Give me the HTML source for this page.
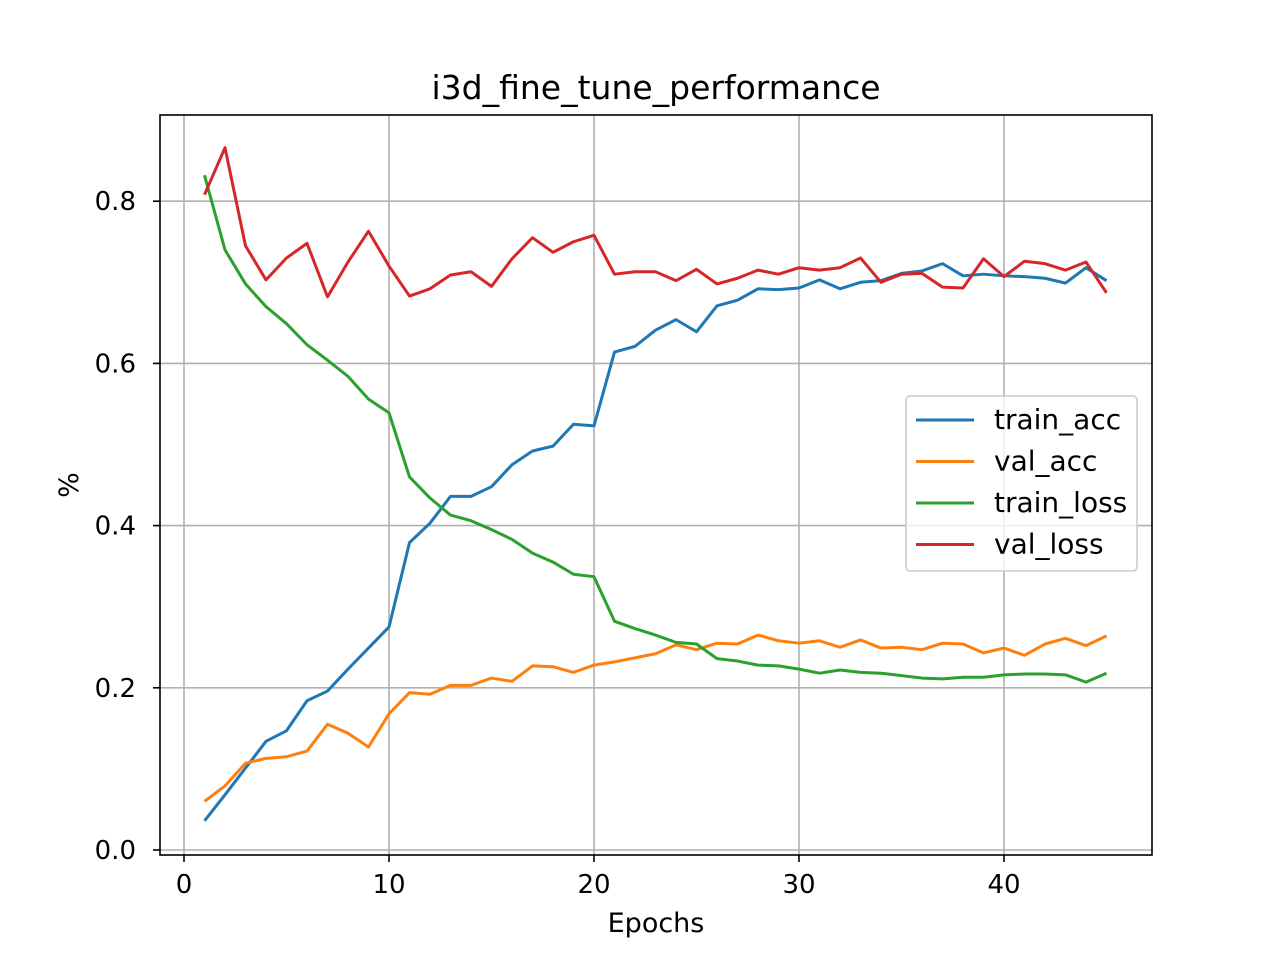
<!DOCTYPE html>
<html><head><meta charset="utf-8"><style>body{margin:0;background:#fff}svg{display:block}text{font-family:"DejaVu Sans","Liberation Sans",sans-serif;fill:#000}</style></head>
<body>
<svg id="chart" width="1280" height="960"></svg>
<script>
const epochs = Array.from({length:45},(_,i)=>i+1);
const trainAcc=[0.036,0.068,0.101,0.134,0.147,0.184,0.196,0.223,0.249,0.275,0.379,0.403,0.436,0.436,0.448,0.475,0.492,0.498,0.525,0.523,0.614,0.621,0.641,0.654,0.639,0.671,0.678,0.692,0.691,0.693,0.703,0.692,0.700,0.702,0.711,0.714,0.723,0.708,0.710,0.708,0.707,0.705,0.699,0.718,0.702];
const valAcc=[0.060,0.079,0.107,0.113,0.115,0.122,0.155,0.144,0.127,0.168,0.194,0.192,0.203,0.203,0.212,0.208,0.227,0.226,0.219,0.228,0.232,0.237,0.242,0.253,0.247,0.255,0.254,0.265,0.258,0.255,0.258,0.250,0.259,0.249,0.250,0.247,0.255,0.254,0.243,0.249,0.240,0.254,0.261,0.252,0.264];
const trainLoss=[0.832,0.740,0.698,0.670,0.649,0.623,0.604,0.584,0.556,0.539,0.460,0.434,0.413,0.406,0.395,0.383,0.366,0.355,0.340,0.337,0.282,0.273,0.265,0.256,0.254,0.236,0.233,0.228,0.227,0.223,0.218,0.222,0.219,0.218,0.215,0.212,0.211,0.213,0.213,0.216,0.217,0.217,0.216,0.207,0.218];
const valLoss=[0.808,0.866,0.745,0.703,0.730,0.748,0.682,0.725,0.763,0.720,0.683,0.692,0.709,0.713,0.695,0.729,0.755,0.737,0.750,0.758,0.710,0.713,0.713,0.702,0.716,0.698,0.705,0.715,0.710,0.718,0.715,0.718,0.730,0.700,0.710,0.711,0.694,0.693,0.729,0.707,0.726,0.723,0.715,0.725,0.687];
const xTicks=[0,10,20,30,40];
const yTicks=[0.0,0.2,0.4,0.6,0.8];
const seriesNames=["train_acc","val_acc","train_loss","val_loss"];
const seriesColors=["#1f77b4","#ff7f0e","#2ca02c","#d62728"];
const seriesData=[trainAcc,valAcc,trainLoss,valLoss];

const NS="http://www.w3.org/2000/svg";
const svg=document.getElementById('chart');
const L=160,R=1152,T=115,B=855;
const xs=v=>184+v*20.5;
const ys=v=>850-v*811;
function mk(tag,attrs,parent){const e=document.createElementNS(NS,tag);for(const k in attrs)e.setAttribute(k,attrs[k]);(parent||svg).appendChild(e);return e;}
xTicks.forEach(t=>{
  const g=mk('line',{x1:xs(t),x2:xs(t),y1:T,y2:B,stroke:'#b0b0b0','stroke-width':1.6});
  
  
  const tk=mk('line',{x1:xs(t),x2:xs(t),y1:B,y2:B+7,stroke:'#000','stroke-width':1.6});
  
  
  const tx=mk('text',{x:xs(t),y:B+38,'text-anchor':'middle','font-size':26});
  tx.textContent=t;
  
  
});
yTicks.forEach(t=>{
  const g=mk('line',{x1:L,x2:R,y1:ys(t),y2:ys(t),stroke:'#b0b0b0','stroke-width':1.6});
  
  
  const tk=mk('line',{x1:L-7,x2:L,y1:ys(t),y2:ys(t),stroke:'#000','stroke-width':1.6});
  
  
  const tx=mk('text',{x:L-24,y:ys(t)+9,'text-anchor':'end','font-size':26});
  tx.textContent=t.toFixed(1);
  
  
});
seriesData.forEach((d,i)=>{
  const p=mk('polyline',{points:d.map((v,j)=>xs(epochs[j])+','+ys(v)).join(' '),fill:'none',stroke:seriesColors[i],'stroke-width':3,'stroke-linejoin':'round'});
  
  
});
const frame=mk('rect',{x:L,y:T,width:R-L,height:B-T,fill:'none',stroke:'#000','stroke-width':1.6});


const title=mk('text',{x:656,y:99,'text-anchor':'middle','font-size':33});
title.textContent='i3d_fine_tune_performance';


const xl=mk('text',{x:656,y:932,'text-anchor':'middle','font-size':27});
xl.textContent='Epochs';


const yl=mk('text',{x:0,y:0,'text-anchor':'middle','font-size':27,transform:'translate(78,485) rotate(-90)'});
yl.textContent='%';


const lg=mk('g',{});


mk('rect',{x:906,y:396,width:231,height:175,rx:4,fill:'#fff','fill-opacity':0.8,stroke:'#ccc','stroke-width':1.6},lg);
seriesNames.forEach((n,i)=>{
  const y=420+i*41.5;
  const ln=mk('line',{x1:916,x2:974,y1:y,y2:y,stroke:seriesColors[i],'stroke-width':3},lg);
  
  
  const t=mk('text',{x:994,y:y+9,'font-size':28},lg);
  t.textContent=n;
  
  
});
</script>
</body></html>
